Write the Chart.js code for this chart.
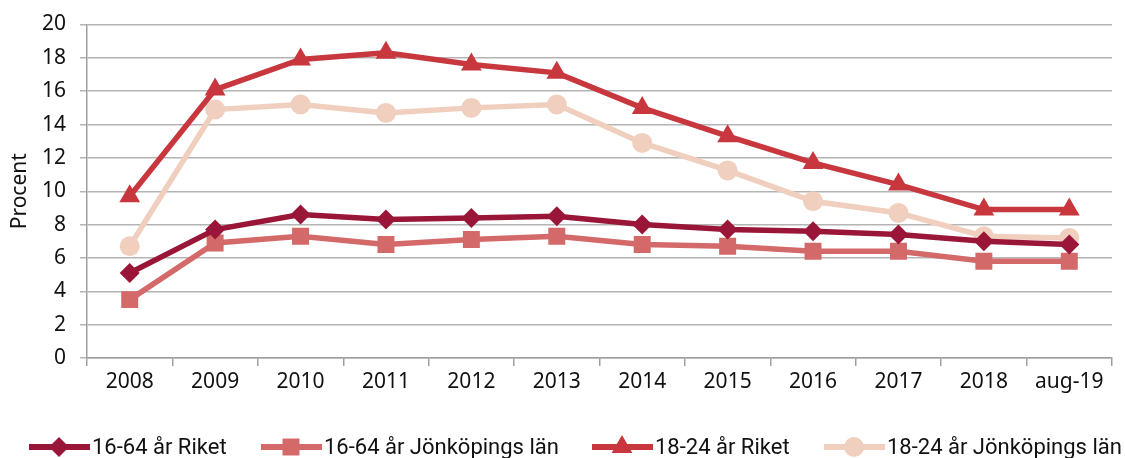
<!DOCTYPE html>
<html>
<head>
<meta charset="utf-8">
<script src="https://cdn.jsdelivr.net/npm/chart.js@4/dist/chart.umd.min.js"></script>
<style>
  html, body { margin: 0; padding: 0; background: #fff; }
  #wrap { width: 1125px; height: 458px; position: relative; }
</style>
</head>
<body>
<div id="wrap"><canvas id="chart"></canvas></div>
<script>
const categories = ['2008', '2009', '2010', '2011', '2012', '2013', '2014', '2015', '2016', '2017', '2018', 'aug-19'];
const riket1664 = [5.1, 7.7, 8.6, 8.3, 8.4, 8.5, 8.0, 7.7, 7.6, 7.4, 7.0, 6.8];
const jkpg1664 = [3.5, 6.9, 7.3, 6.8, 7.1, 7.3, 6.8, 6.7, 6.4, 6.4, 5.8, 5.8];
const riket1824 = [9.7, 16.1, 17.9, 18.3, 17.6, 17.1, 15.0, 13.3, 11.7, 10.4, 8.9, 8.9];
const jkpg1824 = [6.7, 14.9, 15.2, 14.7, 15.0, 15.2, 12.9, 11.25, 9.4, 8.7, 7.3, 7.2];
const seriesNames = ['16-64 år Riket', '16-64 år Jönköpings län', '18-24 år Riket', '18-24 år Jönköpings län'];

const tickFont = { family: 'Noto Sans', size: 21, lineHeight: 1 };

function series(label, data, color, style, radius) {
  return {
    label, data,
    borderColor: color, backgroundColor: color,
    borderWidth: 5.5, pointStyle: style, pointRadius: radius,
    pointBorderWidth: 0, pointHoverRadius: radius, tension: 0
  };
}

// legend with line + marker, drawn at the bottom
const lineLegend = {
  id: 'lineLegend',
  afterDraw(chart) {
    const ctx = chart.ctx;
    const y = 447;
    const xs = [29, 261, 592, 824];
    ctx.save();
    chart.data.datasets.forEach((ds, i) => {
      const x = xs[i];
      ctx.strokeStyle = ds.borderColor;
      ctx.lineWidth = 6;
      ctx.beginPath();
      ctx.moveTo(x, y);
      ctx.lineTo(x + 61, y);
      ctx.stroke();
      ctx.fillStyle = ds.backgroundColor;
      Chart.helpers.drawPoint(ctx, { pointStyle: ds.pointStyle, radius: ds.pointRadius, rotation: 0, borderWidth: 0 }, x + 30, y);
      ctx.fillStyle = '#111';
      ctx.font = '22px Roboto';
      ctx.textBaseline = 'middle';
      ctx.fillText(ds.label, x + 63, y + 1);
    });
    ctx.restore();
  }
};

new Chart(document.getElementById('chart'), {
  type: 'line',
  data: {
    labels: categories,
    datasets: [
      series(seriesNames[0], riket1664, '#9a1638', 'rectRot', 10),
      series(seriesNames[1], jkpg1664, '#d4696a', 'rect', 12),
      series(seriesNames[2], riket1824, '#c8373e', 'triangle', 12),
      series(seriesNames[3], jkpg1824, '#f0cfbe', 'circle', 10)
    ]
  },
  options: {
    responsive: true,
    maintainAspectRatio: false,
    animation: false,
    layout: { padding: { top: 22, right: 13, bottom: 50, left: 0 } },
    plugins: { legend: { display: false }, tooltip: { enabled: false } },
    scales: {
      x: {
        offset: true,
        grid: { offset: true, drawOnChartArea: false, drawTicks: true, tickLength: 8, color: '#a0a0a0', lineWidth: 1.5 },
        border: { color: '#a0a0a0', width: 1.5 },
        ticks: { color: '#111', font: tickFont, padding: 6, maxRotation: 0, autoSkip: false },
        afterFit(scale) { scale.height = 50; }
      },
      y: {
        min: 0, max: 20,
        grid: { color: '#b4b4b4', lineWidth: 1.5, tickLength: 7 },
        border: { color: '#a0a0a0', width: 1.5 },
        ticks: { stepSize: 2, color: '#111', font: tickFont, padding: 14 },
        title: { display: true, text: 'Procent', color: '#111', font: { family: 'Noto Sans', size: 21 }, padding: { top: 7, bottom: 0 } },
        afterFit(scale) { scale.width = 87; }
      }
    }
  },
  plugins: [lineLegend]
});
</script>
</body>
</html>
